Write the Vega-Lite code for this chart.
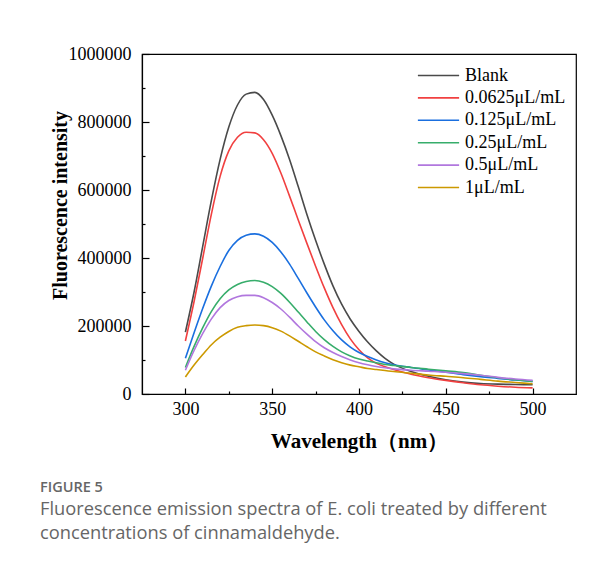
{
  "$schema": "https://vega.github.io/schema/vega-lite/v6.json",
  "autosize": "none",
  "width": 434,
  "height": 340,
  "padding": {"left": 142, "top": 54, "right": 38, "bottom": 170},
  "background": "white",
  "data": {"values": [
    {"wl":300,"group":"Blank","intensity":182000},{"wl":305,"group":"Blank","intensity":300000},{"wl":310,"group":"Blank","intensity":435000},{"wl":315,"group":"Blank","intensity":570000},{"wl":320,"group":"Blank","intensity":690000},{"wl":325,"group":"Blank","intensity":785000},{"wl":330,"group":"Blank","intensity":850000},{"wl":335,"group":"Blank","intensity":882000},{"wl":340,"group":"Blank","intensity":887000},{"wl":345,"group":"Blank","intensity":866000},{"wl":350,"group":"Blank","intensity":820000},{"wl":355,"group":"Blank","intensity":760000},{"wl":360,"group":"Blank","intensity":690000},{"wl":365,"group":"Blank","intensity":610000},{"wl":370,"group":"Blank","intensity":528000},{"wl":375,"group":"Blank","intensity":452000},{"wl":380,"group":"Blank","intensity":382000},{"wl":385,"group":"Blank","intensity":318000},{"wl":390,"group":"Blank","intensity":264000},{"wl":395,"group":"Blank","intensity":220000},{"wl":400,"group":"Blank","intensity":184000},{"wl":405,"group":"Blank","intensity":153000},{"wl":410,"group":"Blank","intensity":127000},{"wl":415,"group":"Blank","intensity":105000},{"wl":420,"group":"Blank","intensity":88000},{"wl":430,"group":"Blank","intensity":66000},{"wl":440,"group":"Blank","intensity":52000},{"wl":450,"group":"Blank","intensity":42000},{"wl":460,"group":"Blank","intensity":35000},{"wl":470,"group":"Blank","intensity":31000},{"wl":480,"group":"Blank","intensity":29000},{"wl":490,"group":"Blank","intensity":28000},{"wl":500,"group":"Blank","intensity":27000},
    {"wl":300,"group":"0.0625μL/mL","intensity":156000},{"wl":305,"group":"0.0625μL/mL","intensity":272000},{"wl":310,"group":"0.0625μL/mL","intensity":400000},{"wl":315,"group":"0.0625μL/mL","intensity":530000},{"wl":320,"group":"0.0625μL/mL","intensity":640000},{"wl":325,"group":"0.0625μL/mL","intensity":715000},{"wl":330,"group":"0.0625μL/mL","intensity":755000},{"wl":335,"group":"0.0625μL/mL","intensity":770000},{"wl":340,"group":"0.0625μL/mL","intensity":768000},{"wl":345,"group":"0.0625μL/mL","intensity":748000},{"wl":350,"group":"0.0625μL/mL","intensity":708000},{"wl":355,"group":"0.0625μL/mL","intensity":650000},{"wl":360,"group":"0.0625μL/mL","intensity":582000},{"wl":365,"group":"0.0625μL/mL","intensity":512000},{"wl":370,"group":"0.0625μL/mL","intensity":443000},{"wl":375,"group":"0.0625μL/mL","intensity":376000},{"wl":380,"group":"0.0625μL/mL","intensity":312000},{"wl":385,"group":"0.0625μL/mL","intensity":254000},{"wl":390,"group":"0.0625μL/mL","intensity":204000},{"wl":395,"group":"0.0625μL/mL","intensity":162000},{"wl":400,"group":"0.0625μL/mL","intensity":130000},{"wl":405,"group":"0.0625μL/mL","intensity":106000},{"wl":410,"group":"0.0625μL/mL","intensity":90000},{"wl":415,"group":"0.0625μL/mL","intensity":80000},{"wl":420,"group":"0.0625μL/mL","intensity":72000},{"wl":430,"group":"0.0625μL/mL","intensity":58000},{"wl":440,"group":"0.0625μL/mL","intensity":48000},{"wl":450,"group":"0.0625μL/mL","intensity":40000},{"wl":460,"group":"0.0625μL/mL","intensity":33000},{"wl":470,"group":"0.0625μL/mL","intensity":27000},{"wl":480,"group":"0.0625μL/mL","intensity":23000},{"wl":490,"group":"0.0625μL/mL","intensity":20000},{"wl":500,"group":"0.0625μL/mL","intensity":18000},
    {"wl":300,"group":"0.125μL/mL","intensity":105000},{"wl":305,"group":"0.125μL/mL","intensity":180000},{"wl":310,"group":"0.125μL/mL","intensity":252000},{"wl":315,"group":"0.125μL/mL","intensity":318000},{"wl":320,"group":"0.125μL/mL","intensity":375000},{"wl":325,"group":"0.125μL/mL","intensity":422000},{"wl":330,"group":"0.125μL/mL","intensity":452000},{"wl":335,"group":"0.125μL/mL","intensity":467000},{"wl":340,"group":"0.125μL/mL","intensity":471000},{"wl":345,"group":"0.125μL/mL","intensity":464000},{"wl":350,"group":"0.125μL/mL","intensity":446000},{"wl":355,"group":"0.125μL/mL","intensity":418000},{"wl":360,"group":"0.125μL/mL","intensity":382000},{"wl":365,"group":"0.125μL/mL","intensity":340000},{"wl":370,"group":"0.125μL/mL","intensity":297000},{"wl":375,"group":"0.125μL/mL","intensity":256000},{"wl":380,"group":"0.125μL/mL","intensity":218000},{"wl":385,"group":"0.125μL/mL","intensity":186000},{"wl":390,"group":"0.125μL/mL","intensity":159000},{"wl":395,"group":"0.125μL/mL","intensity":138000},{"wl":400,"group":"0.125μL/mL","intensity":122000},{"wl":405,"group":"0.125μL/mL","intensity":110000},{"wl":410,"group":"0.125μL/mL","intensity":100000},{"wl":415,"group":"0.125μL/mL","intensity":92000},{"wl":420,"group":"0.125μL/mL","intensity":86000},{"wl":430,"group":"0.125μL/mL","intensity":78000},{"wl":440,"group":"0.125μL/mL","intensity":71000},{"wl":450,"group":"0.125μL/mL","intensity":64000},{"wl":460,"group":"0.125μL/mL","intensity":57000},{"wl":470,"group":"0.125μL/mL","intensity":51000},{"wl":480,"group":"0.125μL/mL","intensity":46000},{"wl":490,"group":"0.125μL/mL","intensity":41000},{"wl":500,"group":"0.125μL/mL","intensity":37000},
    {"wl":300,"group":"0.25μL/mL","intensity":78000},{"wl":305,"group":"0.25μL/mL","intensity":140000},{"wl":310,"group":"0.25μL/mL","intensity":195000},{"wl":315,"group":"0.25μL/mL","intensity":243000},{"wl":320,"group":"0.25μL/mL","intensity":280000},{"wl":325,"group":"0.25μL/mL","intensity":306000},{"wl":330,"group":"0.25μL/mL","intensity":322000},{"wl":335,"group":"0.25μL/mL","intensity":331000},{"wl":340,"group":"0.25μL/mL","intensity":334000},{"wl":345,"group":"0.25μL/mL","intensity":329000},{"wl":350,"group":"0.25μL/mL","intensity":316000},{"wl":355,"group":"0.25μL/mL","intensity":296000},{"wl":360,"group":"0.25μL/mL","intensity":270000},{"wl":365,"group":"0.25μL/mL","intensity":241000},{"wl":370,"group":"0.25μL/mL","intensity":212000},{"wl":375,"group":"0.25μL/mL","intensity":184000},{"wl":380,"group":"0.25μL/mL","intensity":160000},{"wl":385,"group":"0.25μL/mL","intensity":140000},{"wl":390,"group":"0.25μL/mL","intensity":124000},{"wl":395,"group":"0.25μL/mL","intensity":112000},{"wl":400,"group":"0.25μL/mL","intensity":103000},{"wl":405,"group":"0.25μL/mL","intensity":97000},{"wl":410,"group":"0.25μL/mL","intensity":92000},{"wl":415,"group":"0.25μL/mL","intensity":87000},{"wl":420,"group":"0.25μL/mL","intensity":84000},{"wl":430,"group":"0.25μL/mL","intensity":78000},{"wl":440,"group":"0.25μL/mL","intensity":73000},{"wl":450,"group":"0.25μL/mL","intensity":68000},{"wl":460,"group":"0.25μL/mL","intensity":63000},{"wl":470,"group":"0.25μL/mL","intensity":55000},{"wl":480,"group":"0.25μL/mL","intensity":48000},{"wl":490,"group":"0.25μL/mL","intensity":42000},{"wl":500,"group":"0.25μL/mL","intensity":37000},
    {"wl":300,"group":"0.5μL/mL","intensity":70000},{"wl":305,"group":"0.5μL/mL","intensity":128000},{"wl":310,"group":"0.5μL/mL","intensity":178000},{"wl":315,"group":"0.5μL/mL","intensity":221000},{"wl":320,"group":"0.5μL/mL","intensity":254000},{"wl":325,"group":"0.5μL/mL","intensity":275000},{"wl":330,"group":"0.5μL/mL","intensity":286000},{"wl":335,"group":"0.5μL/mL","intensity":290000},{"wl":340,"group":"0.5μL/mL","intensity":290000},{"wl":345,"group":"0.5μL/mL","intensity":283000},{"wl":350,"group":"0.5μL/mL","intensity":269000},{"wl":355,"group":"0.5μL/mL","intensity":250000},{"wl":360,"group":"0.5μL/mL","intensity":226000},{"wl":365,"group":"0.5μL/mL","intensity":200000},{"wl":370,"group":"0.5μL/mL","intensity":176000},{"wl":375,"group":"0.5μL/mL","intensity":154000},{"wl":380,"group":"0.5μL/mL","intensity":136000},{"wl":385,"group":"0.5μL/mL","intensity":122000},{"wl":390,"group":"0.5μL/mL","intensity":110000},{"wl":395,"group":"0.5μL/mL","intensity":100000},{"wl":400,"group":"0.5μL/mL","intensity":92000},{"wl":405,"group":"0.5μL/mL","intensity":86000},{"wl":410,"group":"0.5μL/mL","intensity":81000},{"wl":415,"group":"0.5μL/mL","intensity":77000},{"wl":420,"group":"0.5μL/mL","intensity":74000},{"wl":430,"group":"0.5μL/mL","intensity":70000},{"wl":440,"group":"0.5μL/mL","intensity":67000},{"wl":450,"group":"0.5μL/mL","intensity":64000},{"wl":460,"group":"0.5μL/mL","intensity":60000},{"wl":470,"group":"0.5μL/mL","intensity":55000},{"wl":480,"group":"0.5μL/mL","intensity":49000},{"wl":490,"group":"0.5μL/mL","intensity":44000},{"wl":500,"group":"0.5μL/mL","intensity":40000},
    {"wl":300,"group":"1μL/mL","intensity":50000},{"wl":305,"group":"1μL/mL","intensity":85000},{"wl":310,"group":"1μL/mL","intensity":116000},{"wl":315,"group":"1μL/mL","intensity":145000},{"wl":320,"group":"1μL/mL","intensity":167000},{"wl":325,"group":"1μL/mL","intensity":184000},{"wl":330,"group":"1μL/mL","intensity":196000},{"wl":335,"group":"1μL/mL","intensity":201000},{"wl":340,"group":"1μL/mL","intensity":203000},{"wl":345,"group":"1μL/mL","intensity":201000},{"wl":350,"group":"1μL/mL","intensity":195000},{"wl":355,"group":"1μL/mL","intensity":185000},{"wl":360,"group":"1μL/mL","intensity":171000},{"wl":365,"group":"1μL/mL","intensity":155000},{"wl":370,"group":"1μL/mL","intensity":139000},{"wl":375,"group":"1μL/mL","intensity":124000},{"wl":380,"group":"1μL/mL","intensity":112000},{"wl":385,"group":"1μL/mL","intensity":101000},{"wl":390,"group":"1μL/mL","intensity":92000},{"wl":395,"group":"1μL/mL","intensity":85000},{"wl":400,"group":"1μL/mL","intensity":80000},{"wl":405,"group":"1μL/mL","intensity":75000},{"wl":410,"group":"1μL/mL","intensity":72000},{"wl":415,"group":"1μL/mL","intensity":69000},{"wl":420,"group":"1μL/mL","intensity":66000},{"wl":430,"group":"1μL/mL","intensity":61000},{"wl":440,"group":"1μL/mL","intensity":56000},{"wl":450,"group":"1μL/mL","intensity":52000},{"wl":460,"group":"1μL/mL","intensity":48000},{"wl":470,"group":"1μL/mL","intensity":43000},{"wl":480,"group":"1μL/mL","intensity":38000},{"wl":490,"group":"1μL/mL","intensity":34000},{"wl":500,"group":"1μL/mL","intensity":30000}
  ]},
  "mark": {"type": "line", "strokeWidth": 1.6, "interpolate": "monotone"},
  "encoding": {
    "x": {
      "field": "wl", "type": "quantitative",
      "scale": {"domain": [275, 525], "nice": false, "zero": false},
      "axis": {
        "title": "Wavelength（nm）",
        "titleFontSize": 21,
        "values": [300, 325, 350, 375, 400, 425, 450, 475, 500],
        "labelExpr": "datum.value % 50 === 0 ? datum.label : ''",
        "tickSize": {"condition": {"test": "datum.value % 50 === 0", "value": -6}, "value": -3},
        "labelPadding": 12,
        "titlePadding": 9,
        "grid": false
      }
    },
    "y": {
      "field": "intensity", "type": "quantitative",
      "scale": {"domain": [0, 1000000], "nice": false},
      "axis": {
        "title": "Fluorescence intensity",
        "titleFontSize": 20,
        "titleX": -72,
        "titleY": 151,
        "titleBaseline": "bottom",
        "values": [0, 100000, 200000, 300000, 400000, 500000, 600000, 700000, 800000, 900000, 1000000],
        "format": "d",
        "labelExpr": "datum.value % 200000 === 0 ? datum.label : ''",
        "tickSize": {"condition": {"test": "datum.value % 200000 === 0", "value": -7}, "value": -3},
        "labelPadding": 18,
        "grid": false
      }
    },
    "color": {
      "field": "group", "type": "nominal",
      "scale": {
        "domain": ["Blank", "0.0625μL/mL", "0.125μL/mL", "0.25μL/mL", "0.5μL/mL", "1μL/mL"],
        "range": ["#4a4a4a", "#F14040", "#1A6FDF", "#37AD6B", "#B177DE", "#CC9900"]
      },
      "legend": {
        "title": null,
        "orient": "top-right",
        "offset": 10,
        "symbolType": "M-2,0H2",
        "symbolSize": 425,
        "symbolStrokeWidth": 1.6,
        "labelFont": "Liberation Serif",
        "labelFontSize": 18,
        "labelColor": "black",
        "labelOffset": 15,
        "rowPadding": 1.4,
        "labelLimit": 300
      }
    }
  },
  "title": {
    "text": "FIGURE 5",
    "subtitle": ["Fluorescence emission spectra of E. coli treated by different", "concentrations of cinnamaldehyde."],
    "orient": "bottom",
    "anchor": "start",
    "frame": "group",
    "dx": -102,
    "offset": 30,
    "font": "Open Sans",
    "fontSize": 14.5,
    "fontWeight": 600,
    "color": "#666666",
    "subtitleFont": "Open Sans",
    "subtitleFontSize": 18.3,
    "subtitleColor": "#666666",
    "subtitleLineHeight": 24,
    "subtitlePadding": 5
  },
  "config": {
    "view": {"stroke": "black", "strokeWidth": 1.2},
    "axis": {
      "domainColor": "black",
      "domainWidth": 1.2,
      "tickColor": "black",
      "tickWidth": 1.2,
      "labelFont": "Liberation Serif",
      "labelFontSize": 18,
      "labelColor": "black",
      "labelOverlap": false,
      "labelFlush": false,
      "titleFont": "Liberation Serif",
      "titleFontWeight": "bold",
      "titleColor": "black"
    }
  }
}
